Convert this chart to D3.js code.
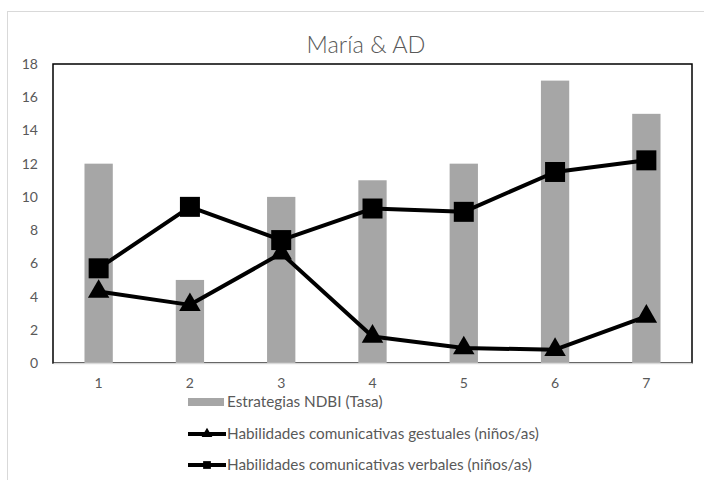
<!DOCTYPE html>
<html>
<head>
<meta charset="utf-8">
<script src="https://cdn.jsdelivr.net/npm/d3@7"></script>
<style>
  html, body { margin: 0; padding: 0; background: #fff; }
  svg { display: block; }
  text { font-family: Lato, "Open Sans", sans-serif; fill: #595959; }
</style>
</head>
<body>
<svg id="chart" width="704" height="480"></svg>
<script>
// Sessions (x categories)
const sessions = ["1", "2", "3", "4", "5", "6", "7"];
// Estrategias NDBI (Tasa) — bars
const ndbi = [12, 5, 10, 11, 12, 17, 15];
// Habilidades comunicativas gestuales — triangles
const gestuales = [4.3, 3.5, 6.6, 1.6, 0.9, 0.8, 2.8];
// Habilidades comunicativas verbales — squares
const verbales = [5.7, 9.4, 7.4, 9.3, 9.1, 11.5, 12.2];
const yTicks = [0, 2, 4, 6, 8, 10, 12, 14, 16, 18];

const title = "María & AD";
const legendLabels = [
  "Estrategias NDBI (Tasa)",
  "Habilidades comunicativas gestuales (niños/as)",
  "Habilidades comunicativas verbales (niños/as)"
];

const svg = d3.select("#chart");
const plot = { left: 53, right: 692, top: 64, bottom: 363 };
const fontStack = "Lato, 'Open Sans', sans-serif";

// outer chart frame
svg.append("rect")
  .attr("x", 7.5).attr("y", 11.5)
  .attr("width", 720).attr("height", 500)
  .attr("fill", "#fff").attr("stroke", "#d9d9d9").attr("stroke-width", 1);

svg.append("text")
  .attr("x", 366).attr("y", 53)
  .attr("text-anchor", "middle")
  .attr("font-size", 23.5)
  .attr("font-weight", 300)
  .text(title);

const xc = d3.scaleBand().domain(sessions).range([plot.left, plot.right]);
const cx = d => xc(d) + xc.bandwidth() / 2;
const barW = xc.bandwidth() * 0.31;
const y = d3.scaleLinear().domain([0, 18]).range([plot.bottom, plot.top]);

// plot area border
svg.append("rect")
  .attr("x", plot.left).attr("y", plot.top)
  .attr("width", plot.right - plot.left).attr("height", plot.bottom - plot.top)
  .attr("fill", "none").attr("stroke", "#000").attr("stroke-width", 1.5);

// bars
svg.append("g").selectAll("rect").data(ndbi).join("rect")
  .attr("x", (d, i) => cx(sessions[i]) - barW / 2)
  .attr("y", d => y(d))
  .attr("width", barW)
  .attr("height", d => y(0) - y(d))
  .attr("fill", "#a6a6a6");

// y axis labels
const yAxis = d3.axisLeft(y).tickValues(yTicks).tickSize(0).tickPadding(15);
const gy = svg.append("g").attr("transform", `translate(${plot.left},0)`).call(yAxis);
gy.select(".domain").remove();
gy.selectAll("text").attr("font-size", 14).attr("fill", "#595959")
  .style("font-family", fontStack);

// x axis
const xAxis = d3.axisBottom(xc).tickSize(0).tickPadding(15);
const gx = svg.append("g").attr("transform", `translate(0,${plot.bottom})`).call(xAxis);
gx.select(".domain").attr("stroke", "#d9d9d9").attr("stroke-width", 1.5);
gx.selectAll("text").attr("font-size", 14).attr("fill", "#595959")
  .style("font-family", fontStack);

const line = d3.line().x((d, i) => cx(sessions[i])).y(d => y(d));

function drawSeries(vals, symType, size) {
  svg.append("path").datum(vals)
    .attr("d", line).attr("fill", "none")
    .attr("stroke", "#000").attr("stroke-width", 4).attr("stroke-linejoin", "round");
  svg.append("g").selectAll("path").data(vals).join("path")
    .attr("transform", (d, i) => `translate(${cx(sessions[i])},${y(d)})`)
    .attr("d", d3.symbol().type(symType).size(size))
    .attr("fill", "#000");
}
drawSeries(gestuales, d3.symbolTriangle, 200);
drawSeries(verbales, d3.symbolSquare, 400);

// legend
const lg = svg.append("g");
const lx = 188, rows = [402, 434, 465];
lg.append("rect").attr("x", lx).attr("y", rows[0] - 4).attr("width", 36).attr("height", 8).attr("fill", "#a6a6a6");
[[d3.symbolTriangle, 50], [d3.symbolSquare, 60]].forEach(([t, s], k) => {
  const yy = rows[k + 1];
  lg.append("line").attr("x1", lx).attr("x2", lx + 38).attr("y1", yy).attr("y2", yy)
    .attr("stroke", "#000").attr("stroke-width", 4);
  lg.append("path").attr("transform", `translate(${lx + 19},${yy})`)
    .attr("d", d3.symbol().type(t).size(s)).attr("fill", "#000");
});
lg.selectAll("text.lbl").data(legendLabels).join("text")
  .attr("class", "lbl")
  .attr("x", lx + 39).attr("y", (d, i) => rows[i])
  .attr("dy", "0.35em")
  .attr("font-size", 15.3)
  .text(d => d);
</script>
</body>
</html>
